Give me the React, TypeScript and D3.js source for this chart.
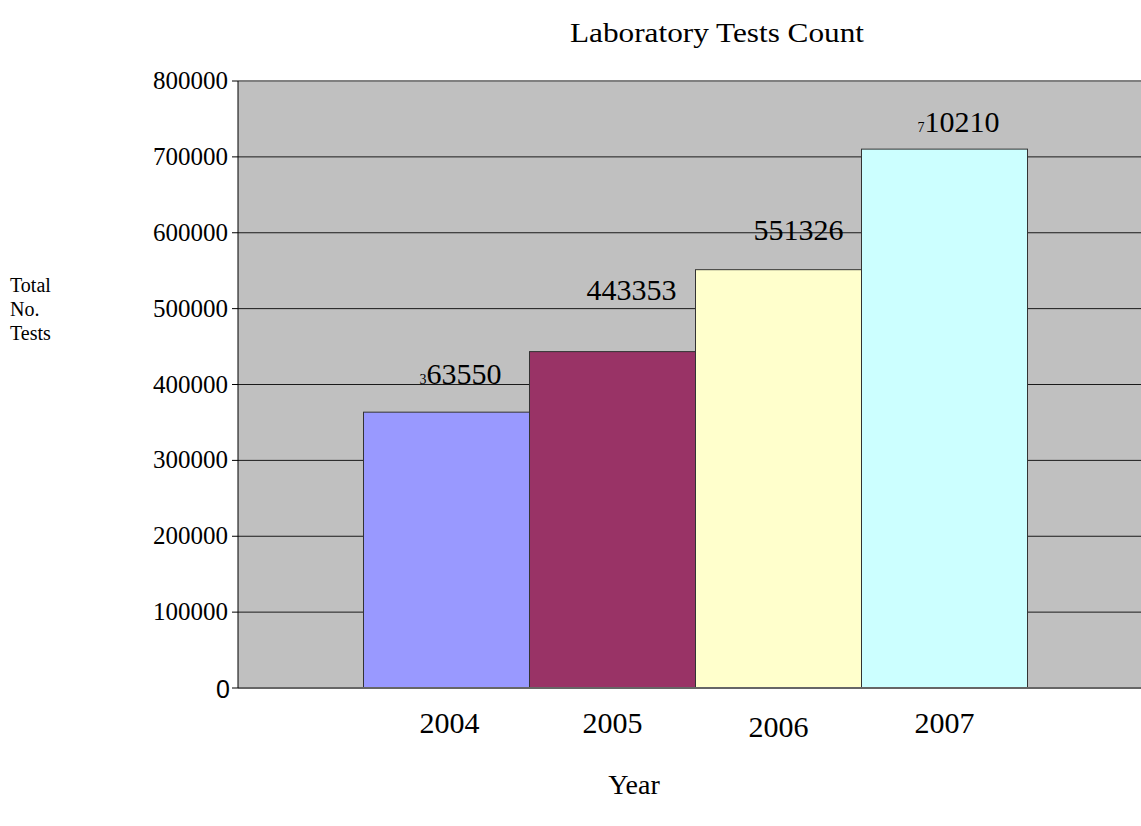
import React from "react";
import * as d3 from "d3";

const years = ["2004", "2005", "2006", "2007"];
const testCounts = [363550, 443353, 551326, 710210];
const barColors = ["#9999ff", "#993366", "#ffffcc", "#ccffff"];
const yTicks = [0, 100000, 200000, 300000, 400000, 500000, 600000, 700000, 800000];
const yAxisTitle = ["Total", "No.", "Tests"];

// Per-bar label placement tweaks (dx, gap above bar)
const labelDx = [14, 19, 20, 14];
const labelGap = [28, 52, 30, 17];

const W = 1141;
const H = 826;
const plotLeft = 238;
const plotRight = 1153;
const plotTop = 81;
const plotBottom = 688;

const serif = "Liberation Serif";
const sans = "Liberation Sans";

export default function App() {
  const x = d3
    .scaleBand<string>()
    .domain(years)
    .range([plotLeft, plotRight])
    .paddingInner(0)
    .paddingOuter(0.756);
  const y = d3.scaleLinear().domain([0, 800000]).range([plotBottom, plotTop]);

  return (
    <svg
      width={W}
      height={H}
      style={{ position: "absolute", left: 0, top: 0, background: "#fff" }}
    >
      <text x={717} y={42} textAnchor="middle" style={{ fontFamily: serif }} fontSize={28} textLength={294} lengthAdjust="spacingAndGlyphs">
        Laboratory Tests Count
      </text>

      {/* plot background */}
      <rect x={plotLeft} y={plotTop} width={plotRight - plotLeft} height={plotBottom - plotTop} fill="#c0c0c0" />

      {/* grid lines */}
      {yTicks.filter((t) => t > 0 && t < 800000).map((t) => (
        <line key={t} x1={plotLeft} x2={plotRight} y1={y(t)} y2={y(t)} stroke="#1a1a1a" strokeWidth={1} />
      ))}
      <line x1={plotLeft} x2={plotRight} y1={y(800000)} y2={y(800000)} stroke="#808080" strokeWidth={2} />

      {/* bars */}
      {years.map((yr, i) => (
        <rect
          key={yr}
          x={x(yr)!}
          y={y(testCounts[i])}
          width={x.bandwidth()}
          height={plotBottom - y(testCounts[i])}
          fill={barColors[i]}
          stroke="#333"
          strokeWidth={1}
        />
      ))}

      <line x1={plotLeft} x2={plotRight} y1={plotBottom} y2={plotBottom} stroke="#666" strokeWidth={2} />
      <line x1={plotLeft} x2={plotLeft} y1={plotTop} y2={plotBottom} stroke="#000" strokeWidth={1} />

      {/* y ticks */}
      {yTicks.map((t) => (
        <g key={t}>
          <line x1={plotLeft - 6} x2={plotLeft} y1={y(t)} y2={y(t)} stroke="#000" />
          <text
            x={t === 0 ? 230 : 228}
            y={y(t) + (t === 0 ? 10 : 8)}
            textAnchor="end"
            style={{ fontFamily: t === 0 ? sans : serif }}
            fontSize={t === 0 ? 25 : 25}
          >
            {t}
          </text>
        </g>
      ))}

      {/* value labels: first digit set small */}
      {years.map((yr, i) => {
        const s = String(testCounts[i]);
        const small = i === 0 || i === 3;
        return (
          <text
            key={yr}
            x={x(yr)! + x.bandwidth() / 2 + labelDx[i]}
            y={y(testCounts[i]) - labelGap[i]}
            textAnchor="middle"
            style={{ fontFamily: serif }}
            fontSize={30}
          >
            {small ? (
              <>
                <tspan fontSize={14}>{s[0]}</tspan>
                <tspan>{s.slice(1)}</tspan>
              </>
            ) : (
              s
            )}
          </text>
        );
      })}

      {/* category labels */}
      {years.map((yr, i) => (
        <text
          key={yr}
          x={x(yr)! + x.bandwidth() / 2 + (i === 0 ? 3 : 0)}
          y={i === 2 ? 737 : 733}
          textAnchor="middle"
          style={{ fontFamily: serif }}
          fontSize={30}
        >
          {yr}
        </text>
      ))}

      <text x={634} y={794} textAnchor="middle" style={{ fontFamily: serif }} fontSize={28}>
        Year
      </text>

      {yAxisTitle.map((l, i) => (
        <text key={l} x={10} y={292 + i * 24} style={{ fontFamily: serif }} fontSize={20}>
          {l}
        </text>
      ))}
    </svg>
  );
}
